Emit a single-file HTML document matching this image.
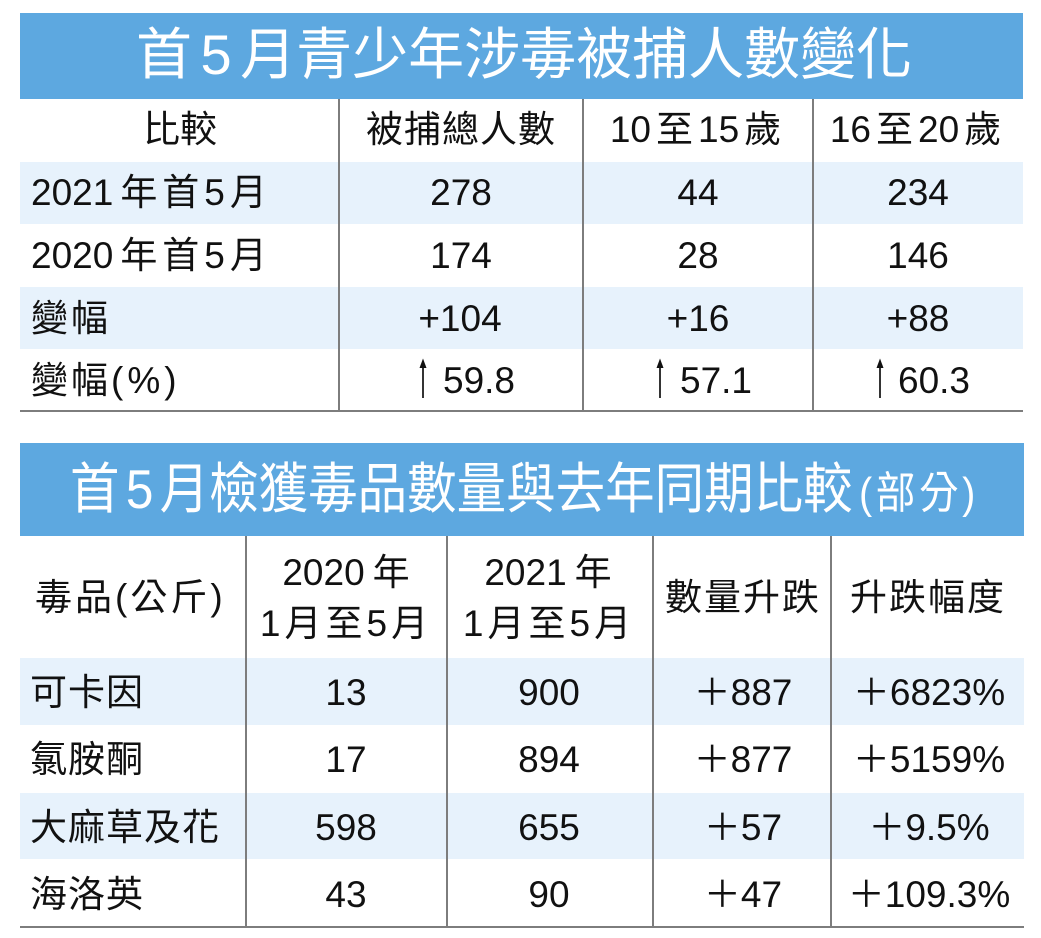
<!DOCTYPE html>
<html>
<head>
<meta charset="utf-8">
<style>
html,body{margin:0;padding:0;background:#fff;}
body{width:1041px;height:938px;position:relative;overflow:hidden;}
svg.bg{position:absolute;left:0;top:0;}
.t{position:absolute;font-family:"Liberation Sans","Noto Sans CJK TC",sans-serif;font-size:37px;line-height:37px;color:#111;white-space:nowrap;}
.c{width:400px;text-align:center;}
.g{margin:0 5px;}
.w{color:#fff;}
</style>
</head>
<body>
<svg class="bg" width="1041" height="938" viewBox="0 0 1041 938" xmlns="http://www.w3.org/2000/svg">
  <rect x="20" y="13" width="1003" height="86" fill="#5da8e0"/>
  <rect x="20" y="162" width="1003" height="62" fill="#e7f2fc"/>
  <rect x="20" y="287" width="1003" height="62" fill="#e7f2fc"/>
  <rect x="20" y="443" width="1004" height="93" fill="#5da8e0"/>
  <rect x="20" y="658" width="1004" height="67" fill="#e7f2fc"/>
  <rect x="20" y="793" width="1004" height="66" fill="#e7f2fc"/>
  <g stroke="#7d7d7d" stroke-width="2" fill="none">
    <line x1="339" y1="99" x2="339" y2="411"/>
    <line x1="583" y1="99" x2="583" y2="411"/>
    <line x1="813" y1="99" x2="813" y2="411"/>
    <line x1="20" y1="411" x2="1023" y2="411"/>
    <line x1="246" y1="536" x2="246" y2="927"/>
    <line x1="447" y1="536" x2="447" y2="927"/>
    <line x1="653" y1="536" x2="653" y2="927"/>
    <line x1="831" y1="536" x2="831" y2="927"/>
    <line x1="20" y1="927" x2="1024" y2="927"/>
  </g>
  <g stroke="#111" stroke-width="1.7" fill="#111">
    <line x1="423" y1="366" x2="423" y2="398"/>
    <polygon points="419.5,368 423,358.5 426.5,368" stroke="none"/>
    <line x1="660" y1="366" x2="660" y2="398"/>
    <polygon points="656.5,368 660,358.5 663.5,368" stroke="none"/>
    <line x1="880" y1="366" x2="880" y2="398"/>
    <polygon points="876.5,368 880,358.5 883.5,368" stroke="none"/>
  </g>
</svg>

<!-- Title 1 -->
<div class="t w" style="left:136px;top:27px;font-size:56px;line-height:56px;">首<span style="margin:0 8.5px">5</span>月青少年涉毒被捕人數變化</div>

<!-- Table 1 header -->
<div class="t c" style="left:-20px;top:111px;">比較</div>
<div class="t c" style="left:261px;top:111px;letter-spacing:1px;">被捕總人數</div>
<div class="t c" style="left:498px;top:111px;">10<span class="g">至</span>15<span class="g">歲</span></div>
<div class="t c" style="left:718px;top:111px;">16<span class="g">至</span>20<span class="g">歲</span></div>

<!-- Table 1 rows -->
<div class="t" style="left:31px;top:174px;">2021<span style="margin-left:7px;letter-spacing:5px;">年首5月</span></div>
<div class="t c" style="left:261px;top:174px;">278</div>
<div class="t c" style="left:498px;top:174px;">44</div>
<div class="t c" style="left:718px;top:174px;">234</div>

<div class="t" style="left:31px;top:237px;">2020<span style="margin-left:7px;letter-spacing:5px;">年首5月</span></div>
<div class="t c" style="left:261px;top:237px;">174</div>
<div class="t c" style="left:498px;top:237px;">28</div>
<div class="t c" style="left:718px;top:237px;">146</div>

<div class="t" style="left:31px;top:300px;letter-spacing:3px;">變幅</div>
<div class="t c" style="left:260px;top:300px;">+104</div>
<div class="t c" style="left:498px;top:300px;">+16</div>
<div class="t c" style="left:718px;top:300px;">+88</div>

<div class="t" style="left:31px;top:362px;letter-spacing:3px;">變幅<span style="letter-spacing:4px;">(%)</span></div>
<div class="t" style="left:443px;top:362px;">59.8</div>
<div class="t" style="left:680px;top:362px;">57.1</div>
<div class="t" style="left:898px;top:362px;">60.3</div>

<!-- Title 2 -->
<div class="t w" style="left:70px;top:461.5px;font-size:55px;line-height:55px;transform:scaleX(0.9);transform-origin:0 0;">首<span style="margin:0 7px">5</span>月檢獲毒品數量與去年同期比較</div>
<div class="t w" style="left:859px;top:471.8px;font-size:44px;line-height:44px;letter-spacing:4px;transform:scaleX(0.9);transform-origin:0 0;">(部分)</div>

<!-- Table 2 header -->
<div class="t" style="left:35px;top:578.5px;letter-spacing:3px;">毒品(公斤)</div>
<div class="t c" style="left:146px;top:554px;">2020<span style="margin-left:8px;">年</span></div>
<div class="t c" style="left:146px;top:604.5px;letter-spacing:4px;">1月至5月</div>
<div class="t c" style="left:348px;top:554px;">2021<span style="margin-left:8px;">年</span></div>
<div class="t c" style="left:349px;top:604.5px;letter-spacing:4px;">1月至5月</div>
<div class="t c" style="left:543px;top:578.5px;letter-spacing:2px;">數量升跌</div>
<div class="t c" style="left:728px;top:578.5px;letter-spacing:2px;">升跌幅度</div>

<!-- Table 2 rows -->
<div class="t" style="left:30px;top:673.5px;letter-spacing:1px;">可卡因</div>
<div class="t c" style="left:146px;top:673.5px;">13</div>
<div class="t c" style="left:349px;top:673.5px;">900</div>
<div class="t c" style="left:543px;top:673.5px;">＋887</div>
<div class="t c" style="left:729px;top:673.5px;">＋6823%</div>

<div class="t" style="left:30px;top:740.5px;letter-spacing:1px;">氯胺酮</div>
<div class="t c" style="left:146px;top:740.5px;">17</div>
<div class="t c" style="left:349px;top:740.5px;">894</div>
<div class="t c" style="left:543px;top:740.5px;">＋877</div>
<div class="t c" style="left:729px;top:740.5px;">＋5159%</div>

<div class="t" style="left:30px;top:808.5px;letter-spacing:1px;">大麻草及花</div>
<div class="t c" style="left:146px;top:808.5px;">598</div>
<div class="t c" style="left:349px;top:808.5px;">655</div>
<div class="t c" style="left:543px;top:808.5px;">＋57</div>
<div class="t c" style="left:729px;top:808.5px;">＋9.5%</div>

<div class="t" style="left:30px;top:875.5px;letter-spacing:1px;">海洛英</div>
<div class="t c" style="left:146px;top:875.5px;">43</div>
<div class="t c" style="left:349px;top:875.5px;">90</div>
<div class="t c" style="left:543px;top:875.5px;">＋47</div>
<div class="t c" style="left:729px;top:875.5px;">＋109.3%</div>
</body>
</html>
